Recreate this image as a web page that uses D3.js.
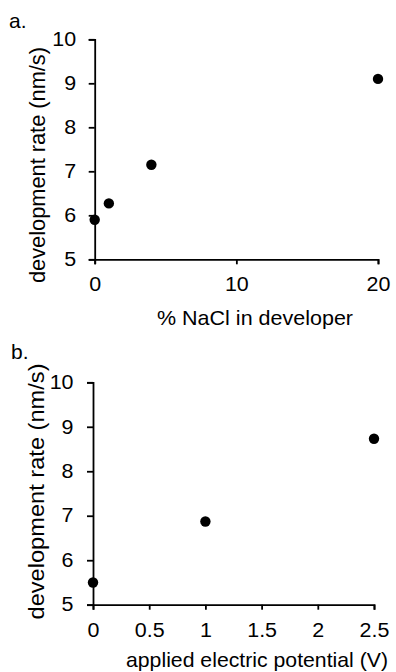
<!DOCTYPE html>
<html>
<head>
<meta charset="utf-8">
<script src="https://cdn.jsdelivr.net/npm/d3@7"></script>
<style>
  body { margin: 0; background: #fff; }
  svg text { font-family: Arial, "Liberation Sans", sans-serif; fill: #000; }
</style>
</head>
<body>
<div id="chart"></div>
<script>
// panel a: NaCl concentration
const naclPct = [0, 1, 4, 20];
const naclRate = [5.9, 6.27, 7.15, 9.1];
const naclTicks = [0, 10, 20];
const naclTickLabels = ["0", "10", "20"];

// panel b: applied potential
const potential = [0, 1, 2.5];
const potentialRate = [5.5, 6.87, 8.73];
const potentialTicks = [0, 0.5, 1, 1.5, 2, 2.5];
const potentialTickLabels = ["0", "0.5", "1", "1.5", "2", "2.5"];

const rateTicks = [5, 6, 7, 8, 9, 10];
const rateTickLabels = ["5", "6", "7", "8", "9", "10"];

const W = 396, H = 672;
const tickFs = 19.5, tickSx = 1.1; // labels look a bit stretched horizontally

const svg = d3.select("#chart")
  .append("svg")
    .attr("width", W)
    .attr("height", H);

function panel(opt) {
  const x = d3.scaleLinear()
    .domain(opt.xDomain)
    .range(opt.xRange);
  const y = d3.scaleLinear()
    .domain([5, 10])
    .range(opt.yRange);

  const g = svg.append("g");

  // x axis
  const xAxis = d3.axisBottom(x)
    .tickValues(opt.xTicks)
    .tickFormat((d, i) => opt.xTickLabels[i])
    .tickSizeOuter(0)
    .tickSize(5);
  const gx = g.append("g")
    .attr("transform", `translate(0, ${opt.yRange[0]})`)
    .call(xAxis);

  // y axis
  const yAxis = d3.axisLeft(y)
    .tickValues(rateTicks)
    .tickFormat((d, i) => rateTickLabels[i])
    .tickSizeOuter(0)
    .tickSize(6);
  const gy = g.append("g")
    .attr("transform", `translate(${opt.xRange[0]}, 0)`)
    .call(yAxis);

  [gx, gy].forEach(a => {
    a.select(".domain").attr("stroke", "#000").attr("stroke-width", 1.8);
    a.selectAll(".tick line").attr("stroke", "#000").attr("stroke-width", 1.8);
    a.selectAll(".tick text")
      .attr("font-size", tickFs)
      .attr("fill", "#000");
  });

  gx.selectAll(".tick text")
    .attr("y", 0)
    .attr("dy", "0.71em")
    .attr("transform", `translate(0, ${opt.xLabelGap}) scale(${tickSx}, 1)`);
  gy.selectAll(".tick text")
    .attr("x", 0)
    .attr("transform", `translate(${-opt.yLabelGap}, 0) scale(${tickSx}, 1)`);

  // points
  g.append("g")
    .selectAll("circle")
    .data(opt.xs.map((v, i) => [v, opt.ys[i]]))
    .join("circle")
      .attr("cx", d => x(d[0]))
      .attr("cy", d => y(d[1]))
      .attr("r", 5.2)
      .attr("fill", "#000");

  // axis titles
  g.append("text")
    .attr("x", opt.xTitle.x)
    .attr("y", opt.xTitle.y)
    .attr("text-anchor", "middle")
    .attr("font-size", opt.xTitle.fs)
    .attr("textLength", opt.xTitle.len)
    .attr("lengthAdjust", "spacingAndGlyphs")
    .text(opt.xTitle.text);

  g.append("text")
    .attr("transform", `translate(${opt.yTitle.x}, ${opt.yTitle.y}) rotate(-90)`)
    .attr("text-anchor", "middle")
    .attr("font-size", opt.yTitle.fs)
    .attr("textLength", opt.yTitle.len)
    .attr("lengthAdjust", "spacingAndGlyphs")
    .text("development rate (nm/s)");

  // panel letter
  g.append("text")
    .attr("x", opt.letter.x)
    .attr("y", opt.letter.y)
    .attr("font-size", 21)
    .text(opt.letter.text);
}

panel({
  xDomain: [0, 20],
  xRange: [94.7, 378],
  yRange: [259.3, 39.3],
  xTicks: naclTicks,
  xTickLabels: naclTickLabels,
  xs: naclPct,
  ys: naclRate,
  xLabelGap: 18,
  yLabelGap: 18.5,
  xTitle: { text: "% NaCl in developer", x: 255, y: 325, fs: 21, len: 196 },
  yTitle: { x: 45, y: 165, fs: 22, len: 236 },
  letter: { text: "a.", x: 9, y: 28 }
});

panel({
  xDomain: [0, 2.5],
  xRange: [93, 374],
  yRange: [604.7, 382.3],
  xTicks: potentialTicks,
  xTickLabels: potentialTickLabels,
  xs: potential,
  ys: potentialRate,
  xLabelGap: 18,
  yLabelGap: 19.5,
  xTitle: { text: "applied electric potential (V)", x: 257, y: 666.5, fs: 21, len: 262 },
  yTitle: { x: 44, y: 491.5, fs: 22, len: 256 },
  letter: { text: "b.", x: 11, y: 359 }
});
</script>
</body>
</html>
